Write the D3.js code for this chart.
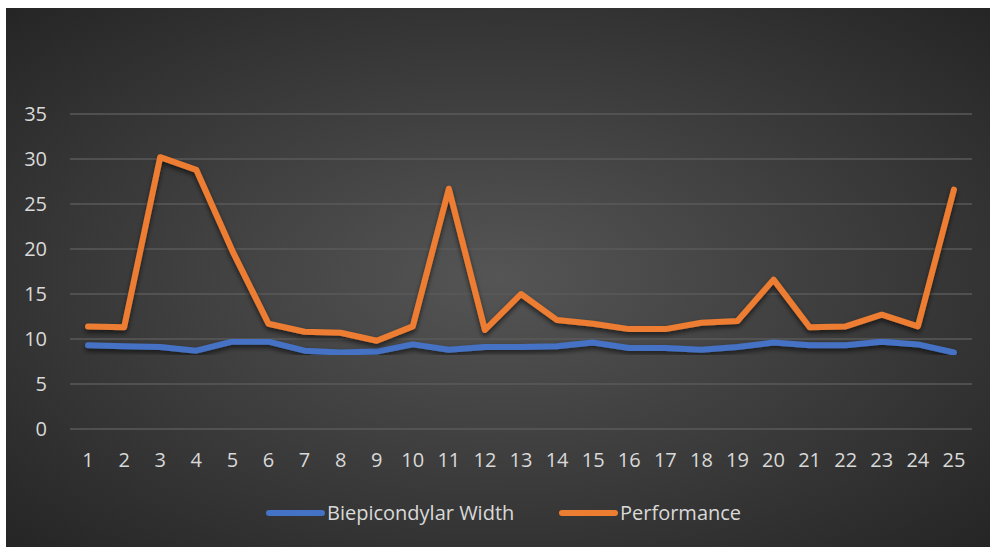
<html>
<head>
  <script src="https://d3js.org/d3.v7.min.js"></script>
  <style>
    body { margin: 0; background: #fff; }
    text { font-family: "Open Sans", sans-serif; }
  </style>
</head>
<body>
  <svg id="chart" width="990" height="547"></svg>
  <script>
    const categories = d3.range(1, 26).map(String);
    const widthValues = [9.3, 9.2, 9.1, 8.7, 9.7, 9.7, 8.7, 8.5, 8.6, 9.4, 8.8, 9.1, 9.1, 9.2, 9.6, 9.0, 9.0, 8.8, 9.1, 9.6, 9.3, 9.3, 9.7, 9.4, 8.5];
    const performanceValues = [11.4, 11.3, 30.2, 28.8, 19.8, 11.7, 10.8, 10.7, 9.8, 11.4, 26.7, 11.0, 15.0, 12.1, 11.7, 11.1, 11.1, 11.8, 12.0, 16.6, 11.3, 11.4, 12.7, 11.4, 26.6];
    const yTicks = [0, 5, 10, 15, 20, 25, 30, 35];
    const seriesNames = ["Biepicondylar Width", "Performance"];
    const seriesColors = ["#4472C4", "#ED7D31"];

    const svg = d3.select("#chart");
    const margin = { top: 114, right: 18, bottom: 118, left: 70 };
    const w = 990 - margin.left - margin.right;
    const h = 547 - margin.top - margin.bottom;

    const defs = svg.append("defs");
    const grad = defs.append("radialGradient")
      .attr("id", "bg")
      .attr("cx", "50%").attr("cy", "50%").attr("r", "75%");
    grad.append("stop").attr("offset", "0%").attr("stop-color", "#555555");
    grad.append("stop").attr("offset", "100%").attr("stop-color", "#222222");

    const shadow = defs.append("filter").attr("id", "shadow")
      .attr("x", "-5%").attr("y", "-20%").attr("width", "110%").attr("height", "140%");
    shadow.append("feDropShadow")
      .attr("dx", 0).attr("dy", 3).attr("stdDeviation", 2.5)
      .attr("flood-color", "#000").attr("flood-opacity", 0.6);

    svg.append("rect")
      .attr("x", 6).attr("y", 8).attr("width", 984).attr("height", 539)
      .attr("fill", "url(#bg)");

    const g = svg.append("g").attr("transform", `translate(${margin.left},${margin.top})`);

    const x = d3.scaleBand().domain(categories).range([0, w]);
    const y = d3.scaleLinear().domain([0, 35]).range([h, 0]);

    // gridlines
    g.selectAll("line.grid").data(yTicks).join("line")
      .attr("class", "grid")
      .attr("x1", 0).attr("x2", w)
      .attr("y1", d => y(d)).attr("y2", d => y(d))
      .attr("stroke", "#5a5a5a").attr("stroke-width", 1.5);

    // y labels
    g.selectAll("text.ylab").data(yTicks).join("text")
      .attr("class", "ylab")
      .attr("x", -23).attr("y", d => y(d))
      .attr("dy", "0.35em")
      .attr("text-anchor", "end")
      .attr("font-size", 20)
      .attr("fill", "#d9d9d9")
      .text(d => d);

    // x labels
    g.selectAll("text.xlab").data(categories).join("text")
      .attr("class", "xlab")
      .attr("x", d => x(d) + x.bandwidth() / 2)
      .attr("y", h + 38)
      .attr("text-anchor", "middle")
      .attr("font-size", 20)
      .attr("fill", "#d9d9d9")
      .text(d => d);

    const line = d3.line()
      .x((d, i) => x(categories[i]) + x.bandwidth() / 2)
      .y(d => y(d));

    [widthValues, performanceValues].forEach((vals, k) => {
      g.append("path")
        .datum(vals)
        .attr("d", line)
        .attr("fill", "none")
        .attr("stroke", seriesColors[k])
        .attr("stroke-width", 6)
        .attr("stroke-linecap", "round")
        .attr("stroke-linejoin", "round")
        .attr("filter", "url(#shadow)");
    });

    // legend
    const legendX = [267, 560];
    const legend = svg.selectAll("g.legend").data(seriesNames).join("g")
      .attr("class", "legend")
      .attr("transform", (d, i) => `translate(${legendX[i]},513)`);
    legend.append("line")
      .attr("x1", 2).attr("x2", 55)
      .attr("stroke", (d, i) => seriesColors[i])
      .attr("stroke-width", 6)
      .attr("stroke-linecap", "round");
    legend.append("text")
      .attr("x", 60).attr("dy", "0.35em")
      .attr("font-size", 20)
      .attr("fill", "#d9d9d9")
      .text(d => d);
  </script>
</body>
</html>
